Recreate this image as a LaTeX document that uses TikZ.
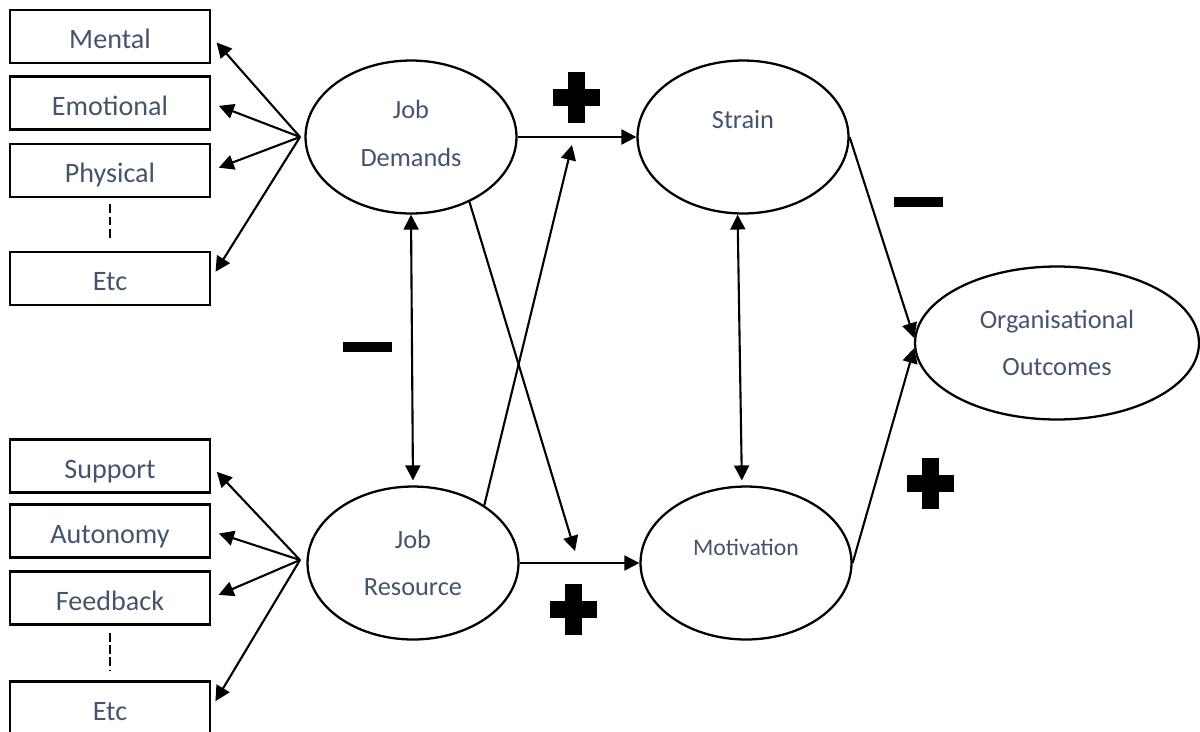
\documentclass[tikz,border=0pt]{standalone}
\usepackage{fontspec}
\setmainfont{Carlito}
\usetikzlibrary{shapes.geometric,arrows.meta}
\definecolor{labelblue}{RGB}{68,84,106}

\begin{document}
\begin{tikzpicture}[x=0.02cm, y=-0.02cm]
        \tikzstyle{jdr_box}     = [shape = rectangle, draw = black, line width=1.5pt, minimum width=4cm, minimum height=1.06cm, inner sep=0pt, text height=16pt, text depth=1.8pt, text=labelblue, font=\fontsize{16}{19}\selectfont]
        \tikzstyle{jdr_ellipse} = [shape = ellipse, draw = black, line width=1.3pt, minimum width=4.22cm, minimum height=3.06cm, inner sep=0pt, align=center, text=labelblue, font=\fontsize{15}{27}\selectfont]
        \tikzstyle{jdr_arrow}   = [draw, line width=1.2pt, -{Triangle[length=0.3cm, width=0.3cm]}]
        \tikzstyle{jdr_both}    = [draw, line width=1.2pt, {Triangle[length=0.3cm, width=0.3cm]}-{Triangle[length=0.3cm, width=0.3cm]}]
        \tikzstyle{jdr_dots}    = [line width=1.4pt, dash pattern=on 5pt off 2pt]
        \tikzset{
          plus_sign/.pic  = {\fill (-23.5,-8.5) rectangle (23.5,8.5); \fill (-8.5,-25.5) rectangle (8.5,25.5);},
          minus_sign/.pic = {\fill (-24.5,-5) rectangle (24.5,5);}
        }

        \useasboundingbox (0,0) rectangle (1200,731);

        % demands side
        \node[jdr_box] at (110, 36.5) (mental)     {Mental};
        \node[jdr_box] at (110,103.0) (emotional)  {Emotional};
        \node[jdr_box] at (110,170.5) (physical)   {Physical};
        \node[jdr_box] at (110,278.5) (demand_etc) {Etc};

        % resource side
        \node[jdr_box] at (110,466.0) (support)      {Support};
        \node[jdr_box] at (110,531.0) (autonomy)     {Autonomy};
        \node[jdr_box] at (110,598.0) (feedback)     {Feedback};
        \node[jdr_box] at (110,708.0) (resource_etc) {Etc};

        \node[jdr_ellipse] at (411,137) (demands)  {\raisebox{2pt}[\height][\depth]{Job}\\\raisebox{2pt}[\height][\depth]{Demands}};
        \node[jdr_ellipse] at (743,137) (strain)   {\raisebox{10pt}[\height][\depth]{Strain}};
        \node[jdr_ellipse] at (413,563) (resource) {Job\\Resource};
        \node[jdr_ellipse, font=\fontsize{13.5}{16}\selectfont]
                           at (746,563) (motivation) {\raisebox{9pt}[\height][\depth]{Motivation}};
        \node[jdr_ellipse, minimum width=5.68cm]
                           at (1057,343) (outcomes) {Organisational\\Outcomes};

        \coordinate (demands_fan)    at (300,137);
        \coordinate (resource_fan)   at (300,560);
        \coordinate (mod_strain)     at (572,145);
        \coordinate (mod_motivation) at (575,551);

        \draw[jdr_dots, shorten <=0.12cm, shorten >=0.22cm] (physical.south) -- (demand_etc.north);
        \draw[jdr_dots, shorten <=0.14cm, shorten >=0.2cm]  (feedback.south) -- (resource_etc.north);

        \path[every edge/.style={jdr_arrow, shorten >=0.16cm}]
          (demands_fan)  edge (mental.east)
          (demands_fan)  edge (emotional.east)
          (demands_fan)  edge (physical.east)
          (demands_fan)  edge (demand_etc.east)
          (resource_fan) edge (support.east)
          (resource_fan) edge (autonomy.east)
          (resource_fan) edge (feedback.east)
          (resource_fan) edge (resource_etc.east)
        ;

        \path[every edge/.style={jdr_arrow}]
          (demands)          edge (strain)
          (resource)         edge (motivation)
          (demands.312)      edge (mod_motivation)
          (resource.39)      edge (mod_strain)
          (strain.east)      edge (outcomes.178)
          (motivation.east)  edge (outcomes.182)
        ;

        \path[every edge/.style={jdr_both, shorten >=0.1cm}]
          (demands.south) edge (resource.north)
          (strain.266)    edge (motivation.93)
        ;

        \pic at (576.5, 97.5) {plus_sign};
        \pic at (573.0,609.5) {plus_sign};
        \pic at (930.0,483.0) {plus_sign};
        \pic at (918.5,202.0) {minus_sign};
        \pic at (367.5,347.0) {minus_sign};
      \end{tikzpicture}
\end{document}
